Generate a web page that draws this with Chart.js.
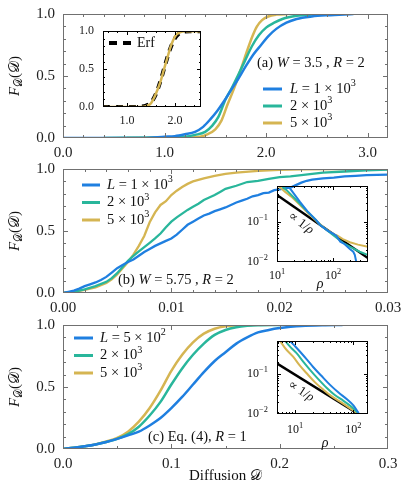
<!DOCTYPE html>
<html><head><meta charset="utf-8">
<script src="https://cdn.jsdelivr.net/npm/chart.js@4"></script>
<style>
html,body{margin:0;padding:0;background:#fff;}
#wrap{position:relative;width:415px;height:497px;overflow:hidden;background:#fff;}
canvas{position:absolute;}
</style></head><body><div id="wrap">
<canvas id="cA" width="415" height="176" style="left:0;top:-11px"></canvas>
<canvas id="cB" width="415" height="176" style="left:0;top:144px"></canvas>
<canvas id="cC" width="415" height="197" style="left:0;top:300px"></canvas>
<canvas id="iA" width="150" height="115" style="left:60px;top:15px"></canvas>
<canvas id="iB" width="150" height="125" style="left:230px;top:170px"></canvas>
<canvas id="iC" width="150" height="125" style="left:230px;top:325px"></canvas>
</div>
<script>
const FONT = '"Liberation Serif","DejaVu Serif",serif';
const COL_BLUE = '#1f7fe0', COL_TEAL = '#29b69b', COL_GOLD = '#d5b552';

// ---------- Panel (a) ----------
const aBlue = [[0,0],[0.8,0],[1.0,0.01],[1.1,0.015],[1.2,0.03],[1.3,0.05],[1.38,0.09],[1.45,0.15],[1.52,0.22],[1.58,0.29],[1.65,0.38],[1.72,0.47],[1.8,0.58],[1.88,0.68],[1.95,0.75],[2.02,0.82],[2.1,0.88],[2.2,0.93],[2.3,0.96],[2.45,0.98],[2.6,0.99],[2.86,1.0]];
const aTeal = [[0.4,0],[1.0,0.005],[1.2,0.01],[1.3,0.025],[1.4,0.05],[1.47,0.1],[1.53,0.17],[1.6,0.31],[1.66,0.4],[1.72,0.5],[1.79,0.62],[1.86,0.74],[1.93,0.83],[2.0,0.89],[2.08,0.93],[2.16,0.96],[2.3,0.985],[2.45,0.995],[2.62,1.0]];
const aGold = [[0.63,0],[1.2,0.003],[1.35,0.01],[1.42,0.03],[1.5,0.07],[1.56,0.14],[1.62,0.27],[1.67,0.37],[1.72,0.48],[1.77,0.6],[1.82,0.72],[1.87,0.83],[1.91,0.9],[1.96,0.95],[2.02,0.98],[2.1,0.995],[2.22,1.0]];
const aInsetGold = [[0.5,0],[1.3,0],[1.4,0.01],[1.5,0.05],[1.57,0.13],[1.63,0.22],[1.7,0.34],[1.77,0.5],[1.84,0.65],[1.9,0.78],[1.96,0.88],[2.02,0.95],[2.1,0.985],[2.2,1.0],[2.54,1.0]];
const aInsetErf = [[0.5,0],[1.0,0],[1.3,0.005],[1.4,0.02],[1.5,0.06],[1.6,0.17],[1.7,0.35],[1.8,0.57],[1.9,0.77],[2.0,0.91],[2.1,0.975],[2.2,0.995],[2.3,1.0],[2.54,1.0]];
const aXTicks = [0,1,2,3];
const aLabels = ['*L* = 1 × 10^{3}','2 × 10^{3}','5 × 10^{3}'];
const aInsetXTicks = [1,2];

// ---------- Panel (b) ----------
const bBlue = [[0,0],[0.0005,0.01],[0.001,0.02],[0.0015,0.035],[0.002,0.055],[0.0025,0.07],[0.003,0.085],[0.0035,0.105],[0.004,0.13],[0.0045,0.165],[0.005,0.2],[0.0055,0.225],[0.006,0.25],[0.0065,0.27],[0.007,0.3],[0.0075,0.33],[0.008,0.355],[0.0085,0.38],[0.009,0.4],[0.0095,0.42],[0.01,0.44],[0.0105,0.47],[0.011,0.51],[0.0115,0.55],[0.012,0.575],[0.0125,0.6],[0.013,0.625],[0.0135,0.64],[0.014,0.66],[0.0145,0.675],[0.015,0.69],[0.0155,0.71],[0.016,0.73],[0.0165,0.745],[0.017,0.76],[0.0175,0.78],[0.018,0.79],[0.0185,0.805],[0.019,0.81],[0.0195,0.83],[0.02,0.835],[0.0205,0.845],[0.021,0.85],[0.0215,0.87],[0.022,0.89],[0.0225,0.905],[0.023,0.915],[0.024,0.925],[0.025,0.93],[0.026,0.94],[0.027,0.945],[0.028,0.95],[0.03,0.955]];
const bTeal = [[0,0],[0.001,0.01],[0.002,0.03],[0.003,0.055],[0.004,0.09],[0.0045,0.12],[0.005,0.16],[0.0055,0.21],[0.006,0.26],[0.0065,0.3],[0.007,0.335],[0.0075,0.37],[0.008,0.405],[0.0085,0.44],[0.009,0.48],[0.0095,0.53],[0.01,0.575],[0.0105,0.61],[0.011,0.64],[0.0115,0.67],[0.012,0.695],[0.0125,0.72],[0.013,0.75],[0.0135,0.77],[0.014,0.79],[0.0145,0.815],[0.015,0.84],[0.016,0.865],[0.017,0.895],[0.018,0.905],[0.019,0.92],[0.02,0.935],[0.021,0.94],[0.022,0.95],[0.023,0.96],[0.024,0.97],[0.026,0.98],[0.028,0.99],[0.03,0.995]];
const bGold = [[0,0],[0.001,0.008],[0.002,0.025],[0.003,0.045],[0.004,0.08],[0.0045,0.11],[0.005,0.15],[0.0055,0.2],[0.006,0.25],[0.0065,0.31],[0.007,0.38],[0.0075,0.46],[0.008,0.57],[0.0085,0.65],[0.009,0.71],[0.0095,0.74],[0.01,0.79],[0.0105,0.825],[0.011,0.855],[0.0115,0.88],[0.012,0.9],[0.013,0.925],[0.014,0.945],[0.015,0.96],[0.016,0.97],[0.018,0.985],[0.02,0.993],[0.022,0.997],[0.025,1.0],[0.03,1.0]];
const bInsetLine = [[10,0.46],[420,0.0125]];
const bInsetBlue = [[15.8,0.78],[20,0.5],[25.7,0.31],[35,0.18],[50,0.11],[59,0.083],[80,0.06],[100,0.051],[115,0.045],[135,0.032],[160,0.028],[200,0.021],[230,0.018],[245,0.015],[265,0.009]];
const bInsetTeal = [[12.5,0.75],[15,0.6],[20,0.4],[25.7,0.28],[35,0.18],[50,0.11],[59,0.083],[80,0.06],[100,0.047],[150,0.03],[200,0.024],[300,0.018],[420,0.015]];
const bInsetGold = [[10,0.8],[11.3,0.72],[14,0.55],[18,0.42],[25,0.27],[35,0.17],[50,0.105],[70,0.07],[100,0.05],[120,0.045],[150,0.037],[200,0.031],[280,0.027],[420,0.024]];
const bXTicks = [0,0.01,0.02,0.03];
const bLabels = ['*L* = 1 × 10^{3}','2 × 10^{3}','5 × 10^{3}'];

// ---------- Panel (c) ----------
const cBlue = [[0,0],[0.01,0.01],[0.02,0.022],[0.03,0.037],[0.04,0.057],[0.05,0.082],[0.06,0.11],[0.07,0.14],[0.08,0.19],[0.09,0.25],[0.1,0.33],[0.11,0.42],[0.12,0.52],[0.13,0.62],[0.14,0.71],[0.15,0.78],[0.16,0.85],[0.17,0.9],[0.18,0.94],[0.19,0.96],[0.2,0.975],[0.21,0.985],[0.22,0.992],[0.24,0.998],[0.258,1.0]];
const cTeal = [[0,0],[0.01,0.01],[0.02,0.022],[0.03,0.036],[0.04,0.056],[0.05,0.082],[0.06,0.12],[0.07,0.18],[0.08,0.27],[0.09,0.38],[0.1,0.52],[0.11,0.65],[0.12,0.76],[0.13,0.85],[0.14,0.92],[0.15,0.96],[0.16,0.982],[0.17,0.993],[0.18,0.998],[0.2,1.0]];
const cGold = [[0,0],[0.01,0.01],[0.02,0.022],[0.03,0.037],[0.04,0.06],[0.05,0.09],[0.06,0.14],[0.07,0.22],[0.08,0.33],[0.09,0.47],[0.1,0.63],[0.11,0.76],[0.12,0.86],[0.13,0.93],[0.14,0.97],[0.15,0.99],[0.16,0.997],[0.175,1.0]];
const cInsetLine = [[4.85,0.186],[122,0.01]];
const cInsetBlue = [[7.6,0.8],[8.2,0.68],[10,0.5],[12.2,0.363],[16,0.23],[20.4,0.151],[28,0.092],[39.8,0.0537],[55,0.035],[77.6,0.0234],[100,0.0165],[123,0.0105]];
const cInsetTeal = [[6.3,0.78],[6.76,0.68],[8.5,0.46],[10.7,0.33],[14,0.2],[18.2,0.126],[25,0.075],[34.7,0.0457],[48,0.03],[67.6,0.0214],[95,0.0148],[123,0.0102]];
const cInsetGold = [[5.3,0.75],[5.53,0.68],[7,0.42],[9.33,0.27],[12,0.165],[15.8,0.105],[22,0.062],[30.9,0.04],[42,0.028],[58.9,0.0204],[85,0.0143],[123,0.01]];
const cXTicks = [0,0.1,0.2,0.3];
const cLabels = ['*L* = 5 × 10^{2}','2 × 10^{3}','5 × 10^{3}'];

const yTicks = [0,0.5,1];
const insetYTicks = [0,0.5,1];
const logXTickLabels = [[10,'10^{1}'],[100,'10^{2}']];
const logYTickLabels = [[0.1,'10^{−1}'],[0.01,'10^{−2}']];

// ---------- helpers ----------
const toXY = a => a.map(p => ({x:p[0], y:p[1]}));
function steps(a,b,s){const r=[];for(let v=a;v<=b+s*1e-6;v+=s) r.push(+v.toFixed(6));return r;}
function logMinor(min,max){const r=[];for(let e=-3;e<=4;e++){for(let k=2;k<=9;k++){const v=k*Math.pow(10,e);if(v>=min&&v<=max) r.push(v);}}return r;}
function parseRich(s){
  const out=[];let i=0,it=false,buf='';
  const push=()=>{if(buf){out.push({t:buf,i:it,m:''});buf='';}};
  while(i<s.length){const c=s[i];
    if(c==='*'){push();it=!it;i++;continue;}
    if((c==='^'||c==='_')&&s[i+1]==='{'){push();const j=s.indexOf('}',i);out.push({t:s.slice(i+2,j),i:it,m:c});i=j+1;continue;}
    buf+=c;i++;}
  push();return out;
}
function drawRich(ctx,s,x,y,size,align,color){
  const parts=parseRich(s);
  const f=p=>(p.i?'italic ':'')+(p.m?size*0.7:size)+'px '+FONT;
  let w=0;parts.forEach(p=>{ctx.font=f(p);p.w=ctx.measureText(p.t).width;w+=p.w;});
  let cx=align==='center'?x-w/2:align==='right'?x-w:x;
  ctx.textBaseline='middle';ctx.textAlign='left';ctx.fillStyle=color||'#111';
  parts.forEach(p=>{ctx.font=f(p);const dy=p.m==='^'?-size*0.36:p.m==='_'?size*0.25:0;ctx.fillText(p.t,cx,y+dy);cx+=p.w;});
}
function makeDeco(cfg){
  return {id:'deco',afterDraw(chart){
    const ctx=chart.ctx,a=chart.chartArea,xs=chart.scales.x,ys=chart.scales.y;
    const ox=cfg.off[0],oy=cfg.off[1];
    ctx.save();
    const L=Math.round(a.left),R=Math.round(a.right),T=Math.round(a.top),B=Math.round(a.bottom);
    const seg=(x1,y1,x2,y2)=>{ctx.beginPath();ctx.moveTo(x1,y1);ctx.lineTo(x2,y2);ctx.stroke();};
    ctx.lineWidth=1;ctx.strokeStyle=cfg.tick;
    const xt=(vals,len)=>vals.forEach(v=>{const p=Math.round(xs.getPixelForValue(v))+0.5;if(p<L||p>R)return;seg(p,B,p,B-len);seg(p,T,p,T+len);});
    const yt=(vals,len)=>vals.forEach(v=>{const p=Math.round(ys.getPixelForValue(v))+0.5;if(p<T||p>B)return;seg(L,p,L+len,p);seg(R,p,R-len,p);});
    xt(cfg.xMinor,cfg.minLen);xt(cfg.xMajor,cfg.majLen);yt(cfg.yMinor,cfg.minLen);yt(cfg.yMajor,cfg.majLen);
    ctx.strokeStyle=cfg.frame;ctx.strokeRect(L+0.5,T+0.5,R-L-1,B-T-1);
    if(cfg.logX){cfg.logX.forEach(([v,s])=>drawRich(ctx,s,xs.getPixelForValue(v),B+cfg.logXOff,cfg.logSize,'center'));}
    if(cfg.logY){cfg.logY.forEach(([v,s])=>drawRich(ctx,s,L-cfg.logYOff,ys.getPixelForValue(v),cfg.logSize,'right'));}
    if(cfg.legend){const g=cfg.legend;g.items.forEach((it,i)=>{const y=g.y+i*g.dy-oy;ctx.strokeStyle=it.color;ctx.lineWidth=g.lw;ctx.setLineDash(it.dash||[]);seg(g.x1-ox,y,g.x2-ox,y);ctx.setLineDash([]);drawRich(ctx,it.s,g.tx-ox,y,g.size,'left','#111');});}
    (cfg.texts||[]).forEach(t=>{ctx.save();ctx.translate(t.x-ox,t.y-oy);if(t.rot)ctx.rotate(t.rot*Math.PI/180);drawRich(ctx,t.s,0,0,t.size,t.align||'left','#111');ctx.restore();});
    ctx.restore();
  }};
}
function ds(pts,color,w,extra){return Object.assign({data:toXY(pts),borderColor:color,borderWidth:w,pointRadius:0,fill:false,tension:0},extra||{});}

function mainChart(id,datasets,xMax,xTicks,dec,padB,deco){
  return new Chart(document.getElementById(id),{
    type:'line',data:{datasets},
    options:{responsive:false,animation:false,events:[],
      layout:{padding:{left:0,right:27,top:25,bottom:padB}},
      plugins:{legend:{display:false},tooltip:{enabled:false}},
      scales:{
        x:{type:'linear',min:0,max:xMax,grid:{display:false,drawTicks:false},border:{display:false},
          afterBuildTicks:s=>{s.ticks=xTicks.map(v=>({value:v}));},afterFit:s=>{s.height=24;},
          ticks:{padding:6,color:'#222',autoSkip:false,maxRotation:0,font:{family:FONT,size:15},callback:v=>Number(v).toFixed(dec)}},
        y:{type:'linear',min:0,max:1,grid:{display:false,drawTicks:false},border:{display:false},
          afterBuildTicks:s=>{s.ticks=yTicks.map(v=>({value:v}));},afterFit:s=>{s.width=63;},
          ticks:{padding:8,color:'#222',autoSkip:false,font:{family:FONT,size:15},callback:v=>Number(v).toFixed(1)}}
      }},
    plugins:[makeDeco(deco)]
  });
}
const MAIN_FRAME='#707070';
const mono={cubicInterpolationMode:'monotone'};
const yTitle=(y)=>({s:'*F*_{𝒟}(𝒟)',x:15,y:y,size:15,align:'center',rot:-90});

// Panel a
mainChart('cA',[ds(aBlue,COL_BLUE,2.5,mono),ds(aTeal,COL_TEAL,2.5,mono),ds(aGold,COL_GOLD,2.5,mono)],3.2,aXTicks,1,3,{
  off:[0,-11],frame:MAIN_FRAME,tick:MAIN_FRAME,majLen:5,minLen:3,
  xMajor:aXTicks,xMinor:steps(0,3.2,0.2),yMajor:yTicks,yMinor:steps(0,1,0.1),
  legend:{x1:263,x2:282,tx:290,y:89,dy:17,lw:3,size:14.5,items:[{color:COL_BLUE,s:aLabels[0]},{color:COL_TEAL,s:aLabels[1]},{color:COL_GOLD,s:aLabels[2]}]},
  texts:[{s:'(a) *W* = 3.5 , *R* = 2',x:257,y:63,size:14.5},yTitle(76)]
});
// Panel b
mainChart('cB',[ds(bBlue,COL_BLUE,2.3),ds(bTeal,COL_TEAL,2.3),ds(bGold,COL_GOLD,2.3)],0.03,bXTicks,2,3,{
  off:[0,144],frame:MAIN_FRAME,tick:MAIN_FRAME,majLen:5,minLen:3,
  xMajor:bXTicks,xMinor:steps(0,0.03,0.002),yMajor:yTicks,yMinor:steps(0,1,0.1),
  legend:{x1:82,x2:100,tx:107,y:185,dy:17.5,lw:3,size:14.5,items:[{color:COL_BLUE,s:bLabels[0]},{color:COL_TEAL,s:bLabels[1]},{color:COL_GOLD,s:bLabels[2]}]},
  texts:[{s:'(b) *W* = 5.75 , *R* = 2',x:118,y:280,size:14.5},yTitle(231)]
});
// Panel c
mainChart('cC',[ds(cBlue,COL_BLUE,2.5,mono),ds(cTeal,COL_TEAL,2.5,mono),ds(cGold,COL_GOLD,2.5,mono)],0.3,cXTicks,1,24,{
  off:[0,300],frame:MAIN_FRAME,tick:MAIN_FRAME,majLen:5,minLen:3,
  xMajor:cXTicks,xMinor:steps(0,0.3,0.05),yMajor:yTicks,yMinor:steps(0,1,0.1),
  legend:{x1:74,x2:93,tx:100,y:338,dy:17.5,lw:3,size:14.5,items:[{color:COL_BLUE,s:cLabels[0]},{color:COL_TEAL,s:cLabels[1]},{color:COL_GOLD,s:cLabels[2]}]},
  texts:[{s:'(c) Eq. (4), *R* = 1',x:148,y:437,size:14.5},yTitle(387),{s:'Diffusion 𝒟',x:225.5,y:476,size:15,align:'center'}]
});

// Inset a (linear)
new Chart(document.getElementById('iA'),{
  type:'line',data:{datasets:[ds(aInsetGold,COL_GOLD,2.5,mono),ds(aInsetErf,'#000',4,Object.assign({borderDash:[7,6]},mono))]},
  options:{responsive:false,animation:false,events:[],
    layout:{padding:{left:0,right:9,top:14,bottom:1}},
    plugins:{legend:{display:false},tooltip:{enabled:false}},
    scales:{
      x:{type:'linear',min:0.5,max:2.54,grid:{display:false,drawTicks:false},border:{display:false},
        afterBuildTicks:s=>{s.ticks=aInsetXTicks.map(v=>({value:v}));},afterFit:s=>{s.height=22;},
        ticks:{padding:7,color:'#222',autoSkip:false,maxRotation:0,font:{family:FONT,size:12},callback:v=>Number(v).toFixed(1)}},
      y:{type:'linear',min:0,max:1,grid:{display:false,drawTicks:false},border:{display:false},
        afterBuildTicks:s=>{s.ticks=insetYTicks.map(v=>({value:v}));},afterFit:s=>{s.width=43;},
        ticks:{padding:9,color:'#222',autoSkip:false,font:{family:FONT,size:12},callback:v=>Number(v).toFixed(1)}}
    }},
  plugins:[makeDeco({off:[60,15],frame:'#000',tick:'#000',majLen:4,minLen:2,
    xMajor:aInsetXTicks,xMinor:steps(0.6,2.4,0.2),yMajor:insetYTicks,yMinor:steps(0,1,0.1),
    legend:{x1:109,x2:131,tx:137,y:43,dy:0,lw:4,size:14,items:[{color:'#000',s:'Erf',dash:[8,6]}]}})]
});

function logInset(id,datasets,xMin,xMax,yMin,yMax,padB,deco){
  return new Chart(document.getElementById(id),{
    type:'line',data:{datasets},
    options:{responsive:false,animation:false,events:[],
      layout:{padding:{left:47,right:12,top:16,bottom:padB}},
      plugins:{legend:{display:false},tooltip:{enabled:false}},
      scales:{
        x:{type:'logarithmic',min:xMin,max:xMax,display:false},
        y:{type:'logarithmic',min:yMin,max:yMax,display:false}
      }},
    plugins:[makeDeco(deco)]
  });
}
logInset('iB',[ds(bInsetBlue,COL_BLUE,2),ds(bInsetTeal,COL_TEAL,2),ds(bInsetGold,COL_GOLD,2),ds(bInsetLine,'#000',2.5)],10,422,0.01,0.771,33,{
  off:[230,170],frame:'#000',tick:'#000',majLen:4,minLen:2,
  xMajor:[10,100],xMinor:logMinor(10,422),yMajor:[0.01,0.1],yMinor:logMinor(0.01,0.771),
  logX:logXTickLabels,logXOff:14,logY:logYTickLabels,logYOff:9,logSize:12,
  texts:[{s:'∝ 1/*ρ*',x:301,y:223,size:13,align:'center',rot:37},{s:'*ρ*',x:320,y:284,size:14,align:'center'}]
});
logInset('iC',[ds(cInsetBlue,COL_BLUE,2,mono),ds(cInsetTeal,COL_TEAL,2,mono),ds(cInsetGold,COL_GOLD,2,mono),ds(cInsetLine,'#000',2.5)],4.9,178,0.01,0.676,36,{
  off:[230,325],frame:'#000',tick:'#000',majLen:4,minLen:2,
  xMajor:[10,100],xMinor:logMinor(4.9,178),yMajor:[0.01,0.1],yMinor:logMinor(0.01,0.676),
  logX:logXTickLabels,logXOff:16,logY:logYTickLabels,logYOff:9,logSize:12,
  texts:[{s:'∝ 1/*ρ*',x:301,y:391,size:13,align:'center',rot:33},{s:'*ρ*',x:325,y:443,size:14,align:'center'}]
});
</script></body></html>
